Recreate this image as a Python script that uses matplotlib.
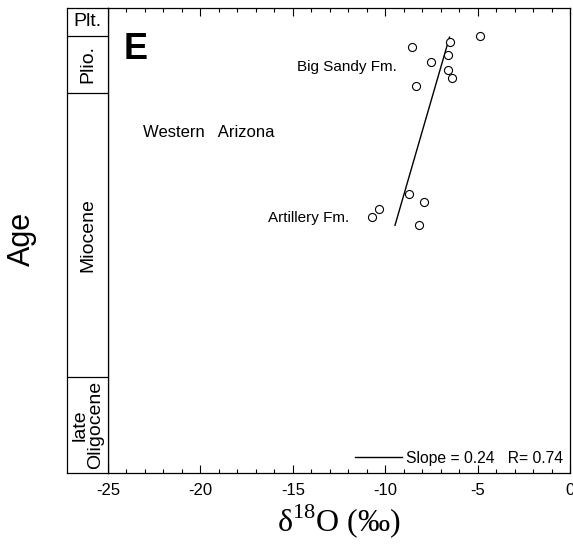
import matplotlib.pyplot as plt
from matplotlib.ticker import MultipleLocator
from matplotlib.lines import Line2D

plt.rcParams['font.family'] = ['Liberation Sans', 'DejaVu Sans']
plt.rcParams['mathtext.fontset'] = 'custom'
plt.rcParams['mathtext.rm'] = 'Liberation Serif'

# d18O (permil) vs age (Ma), western Arizona
d18o = [-6.52, -4.89, -8.55, -6.58, -7.50, -6.58, -6.37, -8.33,
        -8.73, -7.92, -10.36, -10.69, -8.19]
age = [2.16, 1.80, 2.47, 2.94, 3.42, 3.92, 4.42, 4.87,
       11.62, 12.12, 12.57, 13.05, 13.55]

# regression line end points
fit_x = [-6.52, -9.47]
fit_age = [1.85, 13.57]

# epoch boundaries (Ma) and labels
bounds = [0, 1.8, 5.3, 23.0, 29.0]
epochs = ['Plt.', 'Plio.', 'Miocene', 'late\nOligocene']

fig = plt.figure(figsize=(5.73, 5.44), dpi=100)
ax = fig.add_axes([108/573, 1-473/544, 462/573, 465.5/544])
strip = fig.add_axes([67/573, 1-473/544, 41/573, 465.5/544])

ax.plot(d18o, age, 'o', mfc='white', mec='black', ms=5.8, mew=0.8, zorder=3)
ax.plot(fit_x, fit_age, color='black', lw=1.0)

ax.set_xlim(-25, 0)
ax.set_ylim(bounds[-1], bounds[0])
ax.xaxis.set_major_locator(MultipleLocator(5))
ax.xaxis.set_minor_locator(MultipleLocator(1))
ax.tick_params(axis='x', which='both', direction='in', top=True, labelsize=12, pad=7)
ax.tick_params(axis='x', which='major', length=5.5, width=0.8)
ax.tick_params(axis='x', which='minor', length=3, width=0.8)
ax.set_xticklabels([str(int(t)) for t in ax.get_xticks()])
ax.set_yticks([])
for s in ax.spines.values():
    s.set_linewidth(0.9)

ax.text(-24.13, 3.2, 'E', fontsize=26, fontweight='bold', va='baseline')
ax.text(-23.13, 8.09, 'Western   Arizona', fontsize=12, va='baseline')
ax.text(-9.38, 3.93, 'Big Sandy Fm.', fontsize=11, ha='right', va='baseline')
ax.text(-11.96, 13.39, 'Artillery Fm.', fontsize=11, ha='right', va='baseline')

h = Line2D([], [], color='black', lw=1.0)
ax.legend([h], ['Slope = 0.24   R= 0.74'], loc='lower right', frameon=False,
          fontsize=11.3, handlelength=3.0, handletextpad=0.25,
          borderaxespad=0.25, borderpad=0.2)

ax.set_xlabel(r'δ$^{\mathrm{18}}$O (‰)', family='Liberation Serif', fontsize=23, labelpad=3)

# epoch strip
strip.set_xlim(0, 1)
strip.set_ylim(bounds[-1], bounds[0])
strip.set_xticks([])
strip.set_yticks([])
for s in strip.spines.values():
    s.set_linewidth(0.9)
for b in bounds[1:-1]:
    strip.axhline(b, color='black', lw=0.9)
for i, name in enumerate(epochs):
    mid = (bounds[i] + bounds[i+1]) / 2
    rot = 0 if i == 0 else 90
    strip.text(0.5, mid, name, fontsize=14, rotation=rot, ha='center', va='center',
               multialignment='center', linespacing=0.9)

fig.text(22/573, 1-239/544, 'Age', fontsize=22, rotation=90, ha='center', va='center')

fig.savefig('out.png', dpi=100)
